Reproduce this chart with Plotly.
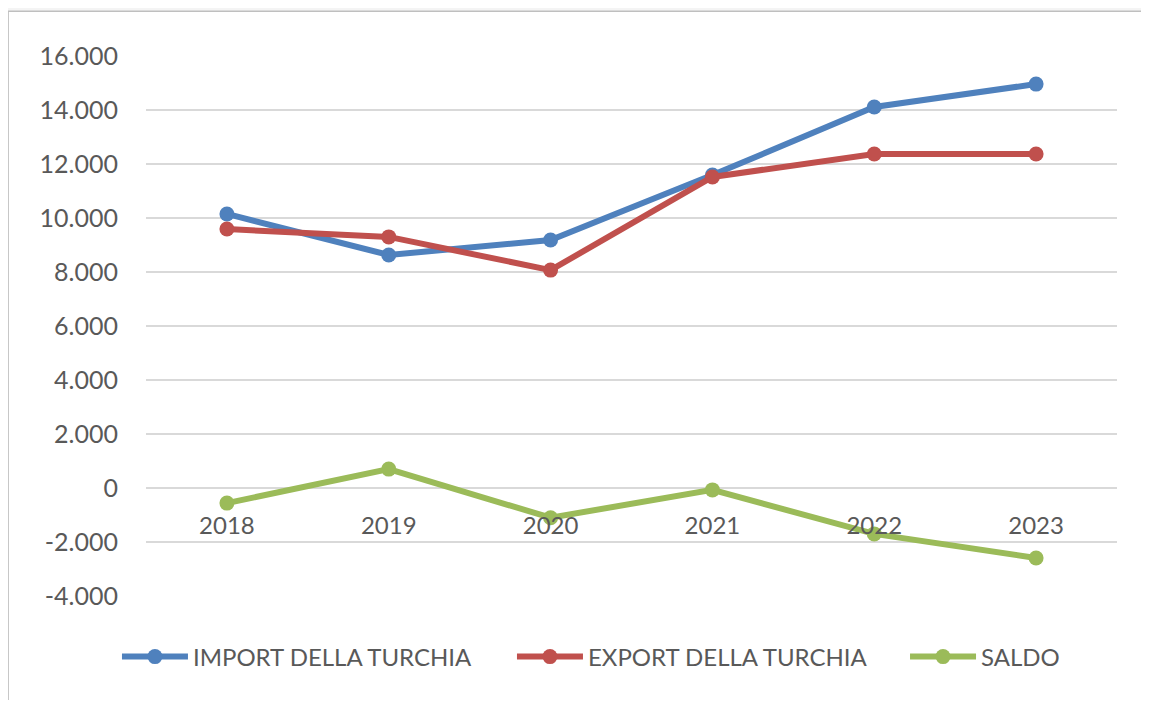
import plotly.graph_objects as go

# Data
anni = ["2018", "2019", "2020", "2021", "2022", "2023"]
import_turchia = [10150, 8630, 9185, 11590, 14110, 14960]
export_turchia = [9590, 9300, 8070, 11520, 12370, 12370]
saldo = [-560, 700, -1100, -70, -1700, -2590]

y_ticks = [-4000, -2000, 0, 2000, 4000, 6000, 8000, 10000, 12000, 14000, 16000]
y_labels = ["-4.000", "-2.000", "0", "2.000", "4.000", "6.000", "8.000",
            "10.000", "12.000", "14.000", "16.000"]

font = "Lato, 'Open Sans', sans-serif"
grey_text = "#595959"

fig = go.Figure()
series = [
    ("IMPORT DELLA TURCHIA", import_turchia, "#4F81BD", "legend"),
    ("EXPORT DELLA TURCHIA", export_turchia, "#C0504D", "legend2"),
    ("SALDO", saldo, "#9BBB59", "legend3"),
]
for name, vals, col, leg in series:
    fig.add_trace(go.Scatter(
        x=anni, y=vals, name=name, mode="lines+markers",
        line=dict(color=col, width=6),
        marker=dict(color=col, size=15),
        legend=leg,
    ))

# one legend box per series so the entries sit where Excel put them
leg_style = dict(
    orientation="h", xanchor="left", y=-0.113, yanchor="middle",
    itemwidth=66, font=dict(size=24, color=grey_text),
    bgcolor="rgba(0,0,0,0)",
)

# page body has an 8px margin all round, keep the page inside the window
fig.update_layout(
    width=1133, height=692,
    margin=dict(l=138, r=24, t=48, b=104, autoexpand=False),
    paper_bgcolor="#f4f4f4",
    plot_bgcolor="rgba(0,0,0,0)",
    font=dict(family=font, size=24, color=grey_text),
    showlegend=True,
    legend=dict(x=-0.0299, **leg_style),
    legend2=dict(x=0.3769, **leg_style),
    legend3=dict(x=0.7817, **leg_style),
    shapes=[dict(
        type="rect", xref="paper", yref="paper",
        x0=-0.142, x1=1.1, y0=-0.3, y1=1.083,
        fillcolor="white", line=dict(color="#bfbfbf", width=1.5),
        layer="below",
    )],
)

fig.update_xaxes(
    type="category", range=[-0.5, 5.5], automargin=False,
    showgrid=False, zeroline=False, showline=False,
    anchor="free", position=0.2,
    ticks="outside", ticklen=0, ticklabelstandoff=16,
    tickfont=dict(size=24, color=grey_text),
)
fig.update_yaxes(
    range=[-4000, 16000], tickvals=y_ticks, ticktext=y_labels, automargin=False,
    showgrid=True, gridcolor="#d9d9d9", gridwidth=2,
    zeroline=False, showline=False, ticks="", ticklabelstandoff=27,
    tickfont=dict(size=25, color=grey_text),
)

fig.write_html("out.html")
